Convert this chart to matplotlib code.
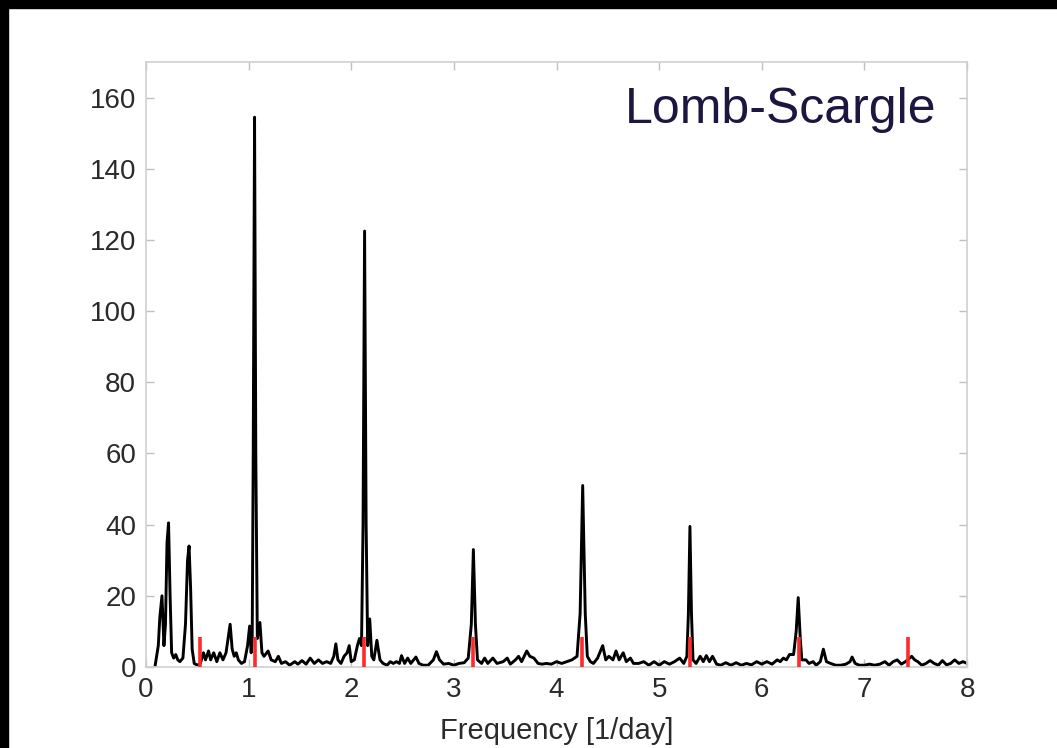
import matplotlib
matplotlib.use("Agg")
import matplotlib.pyplot as plt
from matplotlib.patches import Rectangle

plt.rcParams['font.family'] = ['Liberation Sans', 'DejaVu Sans']

# periodogram vertices: frequency [1/day] and power
freq = [
    0.09, 0.12, 0.135, 0.156, 0.175, 0.19, 0.205, 0.22, 0.235, 0.25, 0.27, 0.29, 0.31, 0.33,
    0.36, 0.385, 0.405, 0.42, 0.435, 0.45, 0.47, 0.50, 0.53, 0.56, 0.58, 0.61, 0.63, 0.66,
    0.69, 0.72, 0.75, 0.78, 0.80, 0.82, 0.84, 0.86, 0.88, 0.90, 0.93, 0.96, 0.99, 1.01,
    1.025, 1.035, 1.045, 1.058, 1.07, 1.085, 1.11, 1.13, 1.15, 1.19, 1.22, 1.26, 1.29, 1.32,
    1.36, 1.40, 1.45, 1.48, 1.52, 1.56, 1.60, 1.64, 1.68, 1.72, 1.76, 1.80, 1.83, 1.85,
    1.87, 1.90, 1.93, 1.96, 1.98, 2.00, 2.03, 2.06, 2.08, 2.10, 2.115, 2.13, 2.145, 2.16,
    2.18, 2.20, 2.22, 2.25, 2.28, 2.31, 2.35, 2.38, 2.41, 2.44, 2.47, 2.49, 2.52, 2.55,
    2.58, 2.63, 2.66, 2.70, 2.75, 2.80, 2.83, 2.86, 2.90, 2.95, 3.00, 3.05, 3.10, 3.14,
    3.17, 3.19, 3.21, 3.23, 3.27, 3.30, 3.33, 3.38, 3.42, 3.48, 3.52, 3.55, 3.60, 3.63,
    3.66, 3.71, 3.74, 3.78, 3.82, 3.86, 3.90, 3.95, 4.00, 4.05, 4.10, 4.15, 4.20, 4.23,
    4.255, 4.28, 4.30, 4.33, 4.36, 4.40, 4.45, 4.48, 4.51, 4.55, 4.58, 4.61, 4.65, 4.68,
    4.72, 4.75, 4.80, 4.85, 4.90, 4.95, 5.00, 5.05, 5.10, 5.15, 5.20, 5.24, 5.27, 5.285,
    5.30, 5.315, 5.33, 5.36, 5.40, 5.43, 5.46, 5.49, 5.52, 5.56, 5.60, 5.65, 5.70, 5.75,
    5.80, 5.85, 5.90, 5.95, 6.00, 6.05, 6.10, 6.15, 6.18, 6.21, 6.24, 6.27, 6.31, 6.335,
    6.355, 6.375, 6.39, 6.43, 6.46, 6.50, 6.53, 6.57, 6.60, 6.63, 6.67, 6.72, 6.77, 6.82,
    6.86, 6.88, 6.91, 6.95, 7.00, 7.05, 7.10, 7.15, 7.20, 7.24, 7.28, 7.32, 7.36, 7.40,
    7.43, 7.46, 7.49, 7.52, 7.56, 7.60, 7.64, 7.68, 7.72, 7.76, 7.80, 7.84, 7.88, 7.92,
    7.96, 8.00,
]
power = [
    0.5, 6, 14, 20, 6, 12, 35, 40.5, 20, 4, 2.5, 3.5, 2, 1.5,
    2.5, 12, 30, 34, 22, 5, 1, 0.5, 1, 4, 2, 4.5, 2, 4,
    1.5, 4, 2, 4, 8, 12, 5, 3, 4, 2, 1, 1.5, 6, 11.5,
    4, 8, 60, 154.5, 60, 8, 12.5, 4, 3, 4.5, 2, 1.5, 3, 1,
    1.5, 0.5, 1.5, 0.8, 1.8, 0.8, 2.5, 1, 2, 1, 1.5, 1, 3, 6.5,
    2, 1, 3, 4, 6, 1.5, 2, 6, 8, 6, 40, 122.5, 40, 6,
    13.5, 3, 2, 7.5, 2, 1, 0.5, 1.5, 1, 1.5, 1, 3.2, 1, 2.5,
    1, 2.8, 1, 0.5, 0.5, 2, 4.3, 2, 0.8, 1, 0.5, 1, 1.2, 2.5,
    12, 33, 12, 2, 1, 2.5, 1, 2.5, 1, 1.5, 2.5, 0.8, 2, 3,
    1.5, 4.5, 3, 2.5, 1, 0.8, 1, 0.8, 1.5, 1, 1.5, 2, 3, 15,
    51, 15, 3, 1.5, 1, 2.5, 6, 2, 3, 2, 4.5, 2, 4, 1.5,
    2.5, 1, 1, 1.5, 0.5, 1.5, 0.5, 1.5, 0.8, 1.5, 2.5, 1, 3, 15,
    39.5, 15, 2, 1, 3, 1.5, 3.2, 1.5, 3, 0.8, 0.5, 1.2, 0.5, 1.2,
    0.5, 1, 0.6, 1.5, 0.8, 1.5, 0.8, 2, 1.5, 2.5, 2, 3.5, 3.5, 10,
    19.5, 8, 2, 2, 1, 1.5, 0.5, 1.5, 5, 1.5, 1, 0.5, 0.5, 0.8,
    1.5, 2.8, 1, 0.5, 0.5, 0.8, 0.5, 0.8, 1.5, 0.5, 1.5, 2, 0.8, 1.5,
    2.2, 3, 2, 1.5, 0.5, 1, 1.8, 1, 0.5, 1.8, 0.6, 1, 2, 1,
    1.5, 1,
]

# expected harmonic frequencies marked in red
harmonics = [0.531, 1.061, 2.122, 3.183, 4.244, 5.305, 6.366, 7.427]
harmonic_height = 8.4

fig = plt.figure(figsize=(10.57, 7.48), dpi=100)
ax = fig.add_axes([0.1381, 0.1083, 0.7768, 0.8088])

ax.plot(freq, power, color='black', lw=2.1, zorder=2)
ax.vlines(harmonics, 0, harmonic_height, color='#ff2a2a', lw=2.6, zorder=3)

ax.set_xlim(0, 8)
ax.set_ylim(0, 170)
ax.set_xticks(range(0, 9))
ax.set_yticks(range(0, 161, 20))

for side in ax.spines.values():
    side.set_color('#cfcfcf')
    side.set_linewidth(1.2)
ax.tick_params(direction='in', length=6, width=1.0, color='#c0c0c0',
               labelsize=20, labelcolor='#2a2a2a', pad=7,
               top=True, right=True)

ax.set_xlabel('Frequency [1/day]', fontsize=21, color='#2a2a2a', labelpad=10)

ax.text(0.963, 0.921, 'Lomb-Scargle', transform=ax.transAxes,
        ha='right', va='center', fontsize=36, color='#1c1640')

# dark frame along the top and left edges
fig.patches.append(Rectangle((0, 0.989), 1, 0.011, transform=fig.transFigure,
                             color='black', zorder=10))
fig.patches.append(Rectangle((0, 0), 0.0076, 1, transform=fig.transFigure,
                             color='black', zorder=10))

fig.savefig('out.png', dpi=100)
